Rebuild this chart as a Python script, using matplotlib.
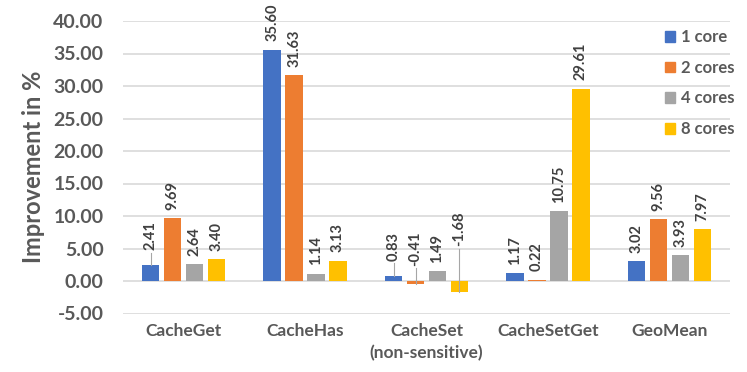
import matplotlib
matplotlib.use("Agg")
import matplotlib.pyplot as plt
import numpy as np
from matplotlib.patches import Patch

categories = ["CacheGet", "CacheHas", "CacheSet\n(non-sensitive)", "CacheSetGet", "GeoMean"]
series_names = ["1 core", "2 cores", "4 cores", "8 cores"]
core1 = [2.41, 35.60, 0.83, 1.17, 3.02]
core2 = [9.69, 31.63, -0.41, 0.22, 9.56]
core4 = [2.64, 1.14, 1.49, 10.75, 3.93]
core8 = [3.40, 3.13, -1.68, 29.61, 7.97]
yticks = [-5, 0, 5, 10, 15, 20, 25, 30, 35, 40]

series = [core1, core2, core4, core8]
colors = ["#4472C4", "#ED7D31", "#A5A5A5", "#FFC000"]
text_c = "#595959"
font = "Lato"

# labels moved away from their bars (drawn with leader lines): (category, series) -> label y
leader_pos = {(0, 0): 4.5, (2, 0): 2.9, (2, 1): 2.15, (2, 3): 5.1}

fig = plt.figure(figsize=(7.47, 3.72), dpi=100)
ax = fig.add_axes([123 / 747, (372 - 313.5) / 372, (730 - 123) / 747, (313.5 - 21) / 372])

x = np.arange(len(categories))
pitch = 0.181
width = 0.144
for i, (vals, col, name) in enumerate(zip(series, colors, series_names)):
    xs = x + (i - 1.5) * pitch
    ax.bar(xs, vals, width=width, color=col, zorder=3, label=name)
    for j, v in enumerate(vals):
        if (j, i) in leader_pos:
            ly = leader_pos[(j, i)]
            ax.plot([xs[j], xs[j]], [v, ly - 0.15], color="#A6A6A6", lw=0.8, zorder=4)
            ax.annotate(f"{v:.2f}", (xs[j], ly), xytext=(0, 1), textcoords="offset points",
                        rotation=90, ha="center", va="bottom", fontsize=10.5,
                        fontweight="bold", color="#404040", family=font)
        else:
            ax.annotate(f"{v:.2f}", (xs[j], max(v, 0)), xytext=(0, 6), textcoords="offset points",
                        rotation=90, ha="center", va="bottom", fontsize=10.5,
                        fontweight="bold", color="#404040", family=font)

ax.set_xlim(-0.5, len(categories) - 0.5)
ax.set_ylim(-5, 40)
ax.set_yticks(yticks)
ax.set_yticklabels([f"{t:.2f}" for t in yticks], fontsize=14, fontweight="bold", color=text_c, family=font)
ax.set_xticks(x)
ax.set_xticklabels(categories, fontsize=12.5, fontweight="bold", color=text_c, family=font, linespacing=1.45)
ax.tick_params(axis="y", length=0, pad=14)
ax.tick_params(axis="x", length=0, pad=7)
ax.yaxis.grid(True, color="#D9D9D9", lw=1.2, zorder=0)
for s in ax.spines.values():
    s.set_visible(False)
ax.set_ylabel("Improvement in %", fontsize=17, fontweight="bold", color=text_c, family=font, labelpad=6)

handles = [Patch(color=c) for c in colors]
leg = ax.legend(handles, series_names, loc="upper left", bbox_to_anchor=(535 / 607, 0.995),
                frameon=False, prop={"family": font, "weight": "bold", "size": 12},
                handlelength=0.6, handleheight=0.6, handletextpad=0.4, labelspacing=0.88,
                borderaxespad=0)
for t in leg.get_texts():
    t.set_color(text_c)

fig.savefig("out.png", dpi=100)
